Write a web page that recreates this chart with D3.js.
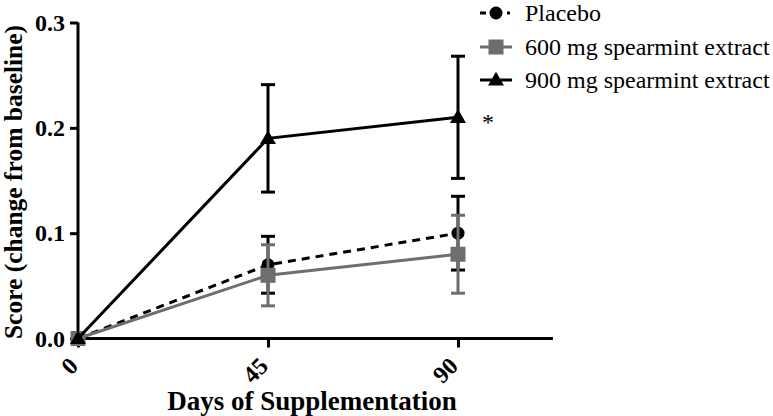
<!DOCTYPE html>
<html><head><meta charset="utf-8">
<script src="https://cdn.jsdelivr.net/npm/d3@7"></script>
<style>body{margin:0;background:#fff}svg{display:block}</style>
</head><body><svg id="c" width="773" height="416"></svg>
<script>
const days = [0, 45, 90];
const xTicks = [0, 45, 90];
const yTicks = [0.0, 0.1, 0.2, 0.3];
const seriesNames = ["Placebo", "600 mg spearmint extract", "900 mg spearmint extract"];
const placeboMean = [0, 0.07, 0.10];
const placeboErr = [0, 0.027, 0.035];
const mg600Mean = [0, 0.06, 0.08];
const mg600Err = [0, 0.029, 0.037];
const mg900Mean = [0, 0.19, 0.21];
const mg900Err = [0, 0.051, 0.058];

const FONT = "'Liberation Serif', 'Times New Roman', Times, serif";
const svg = d3.select("#c");
const x = d3.scaleLinear().domain([0, 112.5]).range([78, 553]);
const y = d3.scaleLinear().domain([0, 0.3]).range([338.5, 22.5]);

const series = [
  {name: seriesNames[0], mean: placeboMean, err: placeboErr, color: "#000", dash: "8,6", marker: "circle"},
  {name: seriesNames[1], mean: mg600Mean, err: mg600Err, color: "#6e6e6e", dash: null, marker: "square"},
  {name: seriesNames[2], mean: mg900Mean, err: mg900Err, color: "#000", dash: null, marker: "triangle"}
];

// axes
const yAxis = d3.axisLeft(y).tickValues(yTicks).tickFormat(d3.format(".1f")).tickSize(8).tickPadding(5);
const gy = svg.append("g").attr("transform", "translate(78,0)").call(yAxis).attr("font-family", FONT);
gy.select(".domain").attr("stroke-width", 3).attr("d", `M0,${y(0.3)}V${y(0)+1.5}`);
gy.selectAll(".tick line").attr("stroke-width", 3);
gy.selectAll(".tick text").attr("font-size", 24).attr("font-weight", "bold").attr("fill", "#000").attr("font-family", FONT);

const xAxis = d3.axisBottom(x).tickValues(xTicks).tickSize(9).tickFormat(d3.format("d"));
const gx = svg.append("g").attr("transform", `translate(0,${y(0)})`).call(xAxis).attr("font-family", FONT);
gx.select(".domain").attr("stroke-width", 3).attr("d", `M${x(0)-1.5},0H${x(112.5)}`);
gx.selectAll(".tick line").attr("stroke-width", 3);
gx.selectAll(".tick text").attr("font-size", 24).attr("font-weight", "bold").attr("fill", "#000").attr("font-family", FONT)
  .attr("text-anchor", "end").attr("dy", null).attr("y", 0)
  .attr("transform", "translate(1,29) rotate(-45)");

// titles
svg.append("text").attr("x", 312).attr("y", 410).attr("text-anchor", "middle").attr("font-family", FONT)
  .attr("font-size", 27).attr("font-weight", "bold").text("Days of Supplementation");
svg.append("text").attr("transform", "translate(22,182) rotate(-90)").attr("text-anchor", "middle").attr("font-family", FONT)
  .attr("font-size", 25.5).attr("font-weight", "bold").text("Score (change from baseline)");

function drawMarker(g, type, cx, cy, color) {
  if (type === "circle") g.append("circle").attr("cx", cx).attr("cy", cy).attr("r", 6.5).attr("fill", color);
  else if (type === "square") g.append("rect").attr("x", cx - 7.5).attr("y", cy - 7.5).attr("width", 15).attr("height", 15).attr("fill", color);
  else g.append("path").attr("d", d3.symbol(d3.symbolTriangle, 110)()).attr("transform", `translate(${cx},${cy+1})`).attr("fill", color);
}

const line = d3.line().x((d, i) => x(days[i])).y(d => y(d));
series.forEach(s => {
  const g = svg.append("g");
  s.mean.forEach((m, i) => {
    if (s.err[i] <= 0) return;
    const cx = x(days[i]);
    g.append("line").attr("x1", cx).attr("x2", cx).attr("y1", y(m + s.err[i])).attr("y2", y(m - s.err[i]))
      .attr("stroke", s.color).attr("stroke-width", 3);
    [m + s.err[i], m - s.err[i]].forEach(v => {
      g.append("line").attr("x1", cx - 7).attr("x2", cx + 7).attr("y1", y(v)).attr("y2", y(v))
        .attr("stroke", s.color).attr("stroke-width", 3);
    });
  });
  g.append("path").attr("d", line(s.mean)).attr("fill", "none").attr("stroke", s.color)
    .attr("stroke-width", 3).attr("stroke-dasharray", s.dash);
  s.mean.forEach((m, i) => drawMarker(g, s.marker, x(days[i]), y(m), s.color));
});

// significance star
svg.append("text").attr("x", 488).attr("y", 130).attr("text-anchor", "middle").attr("font-family", FONT).attr("font-size", 24).text("*");

// legend
const legY = [13, 47, 80];
series.forEach((s, i) => {
  const g = svg.append("g").attr("transform", `translate(0,${legY[i]})`);
  if (s.dash) {
    g.append("line").attr("x1", 480).attr("x2", 486).attr("y1", 0).attr("y2", 0).attr("stroke", s.color).attr("stroke-width", 3);
    g.append("line").attr("x1", 507).attr("x2", 510).attr("y1", 0).attr("y2", 0).attr("stroke", s.color).attr("stroke-width", 3);
  } else {
    g.append("line").attr("x1", 480).attr("x2", 512).attr("y1", 0).attr("y2", 0).attr("stroke", s.color).attr("stroke-width", 3);
  }
  drawMarker(g, s.marker, 496, 0, s.color);
  g.append("text").attr("x", 525).attr("y", 0).attr("dy", "0.35em").attr("font-family", FONT).attr("font-size", 24).text(s.name);
});
</script></body></html>
